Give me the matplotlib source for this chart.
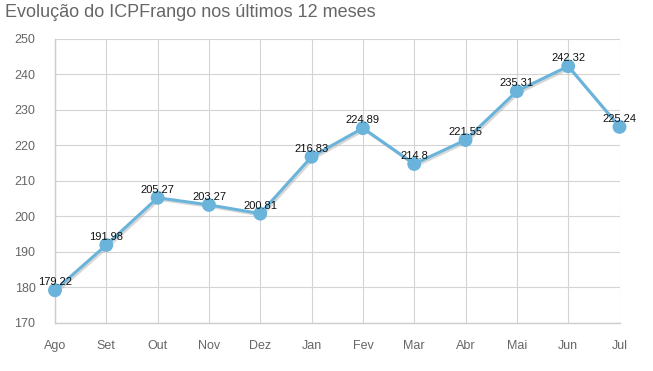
import matplotlib.pyplot as plt
import matplotlib.patheffects as pe

months = ['Ago', 'Set', 'Out', 'Nov', 'Dez', 'Jan', 'Fev', 'Mar', 'Abr', 'Mai', 'Jun', 'Jul']
values = [179.22, 191.98, 205.27, 203.27, 200.81, 216.83, 224.89, 214.8, 221.55, 235.31, 242.32, 225.24]
labels = ['179.22', '191.98', '205.27', '203.27', '200.81', '216.83', '224.89', '214.8', '221.55', '235.31', '242.32', '225.24']

plt.rcParams['font.family'] = ['Liberation Sans', 'DejaVu Sans']

fig = plt.figure(figsize=(6.53, 3.71), dpi=100)
ax = fig.add_axes([0.0842, 0.1294, 0.8645, 0.7655])

x = list(range(len(months)))
ax.plot(x, values, color='#6ab4dc', lw=2.2, marker='o', markersize=10,
        markeredgewidth=0, zorder=3, clip_on=False,
        path_effects=[pe.SimpleLineShadow(offset=(1.2, -1.2), shadow_color='#aaaaaa', alpha=0.45),
                      pe.Normal()])

for xi, v, t in zip(x, values, labels):
    ax.annotate(t, (xi, v), xytext=(0, 2), textcoords='offset points',
                ha='center', va='bottom', fontsize=8, color='#111111', zorder=4,
                annotation_clip=False)

ax.set_xlim(0, 11)
ax.set_ylim(170, 250)
ax.set_yticks(range(170, 251, 10))
ax.set_xticks(x)
ax.set_xticklabels(months)
ax.grid(True, color='#d4d4d4', lw=0.8)
ax.set_axisbelow(True)
for s in ['top', 'right']:
    ax.spines[s].set_visible(False)
for s in ['left', 'bottom']:
    ax.spines[s].set_color('#cccccc')
    ax.spines[s].set_linewidth(1.0)
ax.tick_params(length=0, labelsize=9, colors='#666666', pad=12)
ax.tick_params(axis='y', pad=14)

fig.text(0.008, 0.965, 'Evolução do ICPFrango nos últimos 12 meses', fontsize=13,
         color='#666666', ha='left', va='center')

plt.savefig('out.png', dpi=100)
